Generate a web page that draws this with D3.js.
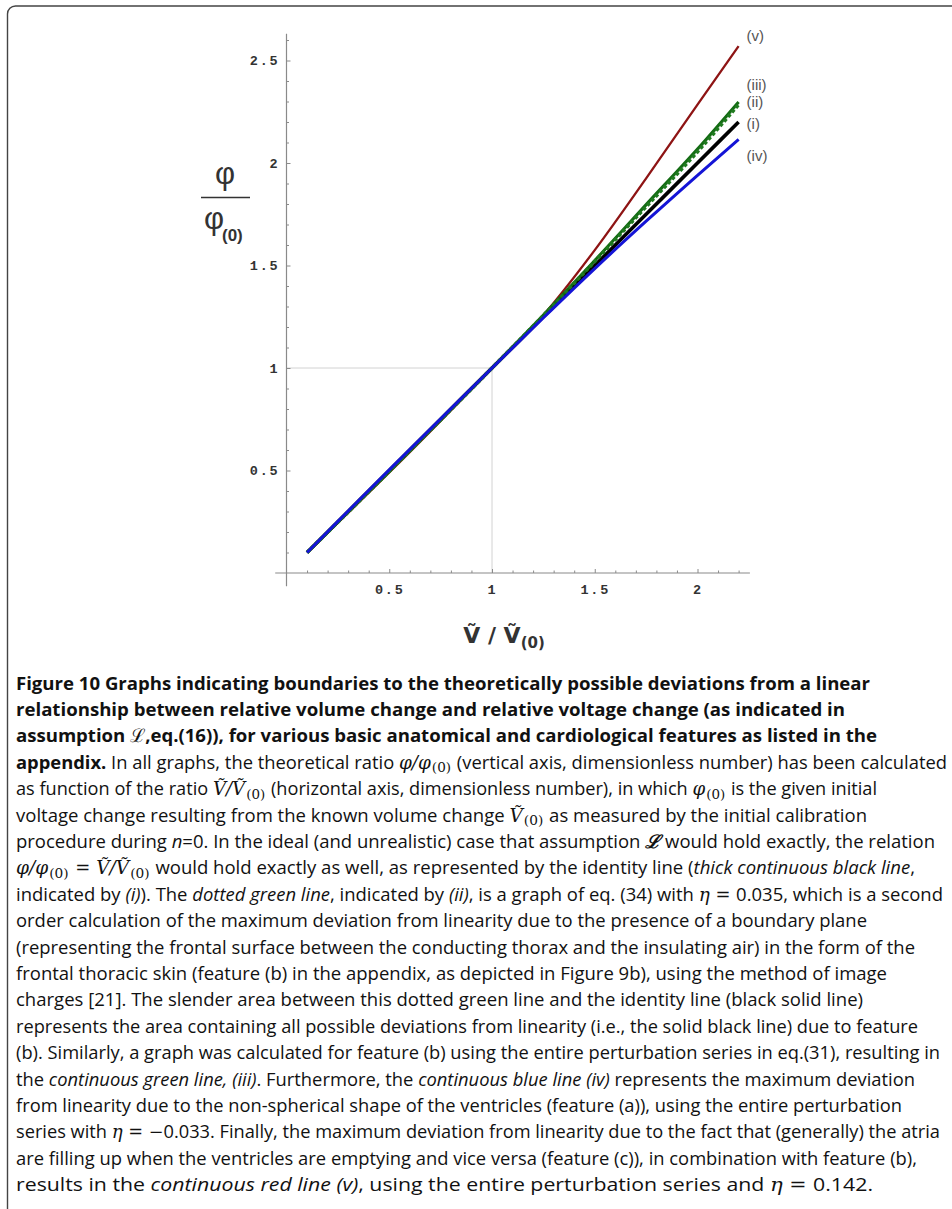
<!DOCTYPE html>
<html>
<head>
<meta charset="utf-8">
<script src="https://cdn.jsdelivr.net/npm/d3@7"></script>
<style>
  body { margin: 0; background: #fff; }
  svg { display: block; }
  text { white-space: pre; }
</style>
</head>
<body>
<svg id="fig" width="952" height="1209"></svg>
<script>
// values (phi/phi0 against V/V0)
const ratioV = [0.1, 0.25, 0.5, 0.75, 1, 1.25, 1.5, 1.75, 2, 2.2];
const identityLine = [0.1, 0.25, 0.5, 0.75, 1, 1.25, 1.5, 1.75, 2, 2.2];          // (i)
const dottedGreen = [0.1, 0.248, 0.496, 0.747, 1, 1.256, 1.52, 1.787, 2.055, 2.285]; // (ii)
const solidGreen = [0.1, 0.248, 0.496, 0.747, 1, 1.258, 1.524, 1.797, 2.068, 2.298]; // (iii)
const blueLine = [0.1, 0.252, 0.503, 0.752, 1, 1.245, 1.485, 1.716, 1.94, 2.115];    // (iv)
const redLine = [0.1, 0.245, 0.49, 0.742, 1, 1.258, 1.575, 1.925, 2.285, 2.57];      // (v)

const xTicks = [0.5, 1, 1.5, 2];
const yTicks = [0.5, 1, 1.5, 2, 2.5];
const curveNames = ['(i)', '(ii)', '(iii)', '(iv)', '(v)'];

const svg = d3.select('#fig');

// frame (open to the right and bottom)
svg.append('path')
  .attr('d', 'M7.5,1209V14A8,8 0 0 1 15.5,6H952')
  .attr('fill', 'none')
  .attr('stroke', '#444')
  .attr('stroke-width', 1.4);

const x = d3.scaleLinear().domain([0, 2]).range([286.5, 697.5]);
const y = d3.scaleLinear().domain([0, 2.5]).range([573, 60.5]);

// reference lines to the point (1,1)
svg.append('line')
  .attr('x1', x(0)).attr('x2', x(1)).attr('y1', y(1)).attr('y2', y(1))
  .attr('stroke', '#d2d2d2').attr('stroke-width', 1);
svg.append('line')
  .attr('x1', x(1)).attr('x2', x(1)).attr('y1', y(0)).attr('y2', y(1))
  .attr('stroke', '#d2d2d2').attr('stroke-width', 1);

// axes

const axisColor = '#8a8a8a';
const minorX = d3.range(1, 23).map(i => i / 10).filter(v => !xTicks.some(t => Math.abs(t - v) < 1e-9));
const minorY = d3.range(1, 27).map(i => i / 10).filter(v => !yTicks.some(t => Math.abs(t - v) < 1e-9));

svg.append('line')
  .attr('x1', x(-0.055)).attr('x2', x(2.255)).attr('y1', y(0)).attr('y2', y(0))
  .attr('stroke', axisColor).attr('stroke-width', 1.2);
svg.append('line')
  .attr('x1', x(0)).attr('x2', x(0)).attr('y1', y(-0.065)).attr('y2', y(2.63))
  .attr('stroke', axisColor).attr('stroke-width', 1.2);

function styleAxis(g) {
  g.select('.domain').remove();
  g.selectAll('.tick line').attr('stroke', axisColor).attr('stroke-width', 1);
  g.selectAll('.tick text')
    .attr('fill', '#333')
    .attr('font-family', '"Liberation Mono", "DejaVu Sans Mono", monospace')
    .attr('font-weight', 'bold')
    .attr('font-size', 13.5)
    .attr('letter-spacing', 1.8);
}

svg.append('g')
  .attr('transform', `translate(0,${y(0)})`)
  .call(d3.axisBottom(x).tickValues(minorX).tickSize(-2.5).tickFormat(''))
  .call(styleAxis);
svg.append('g')
  .attr('transform', `translate(0,${y(0)})`)
  .call(d3.axisBottom(x).tickValues(xTicks).tickSize(-4).tickPadding(11).tickFormat(d3.format('')))
  .call(styleAxis);
svg.append('g')
  .attr('transform', `translate(${x(0)},0)`)
  .call(d3.axisLeft(y).tickValues(minorY).tickSize(-2.5).tickFormat(''))
  .call(styleAxis);
svg.append('g')
  .attr('transform', `translate(${x(0)},0)`)
  .call(d3.axisLeft(y).tickValues(yTicks).tickSize(-4).tickPadding(7).tickFormat(d3.format('')))
  .call(styleAxis);

// curves

const line = d3.line()
  .x((d, i) => x(ratioV[i]))
  .y(d => y(d))
  .curve(d3.curveMonotoneX);

const curves = [
  { name: curveNames[0], values: identityLine, color: '#000', width: 3.6, dy: 1 },
  { name: curveNames[4], values: redLine, color: '#8e1414', width: 2.3, dy: -11 },
  { name: curveNames[2], values: solidGreen, color: '#136b13', width: 3, dy: -17 },
  { name: curveNames[1], values: dottedGreen, color: '#1f7a1f', width: 3.6, dy: -3, dash: '3.5,2.5' },
  { name: curveNames[3], values: blueLine, color: '#1414d6', width: 3, dy: 16 },
];

// pale core under the dotted curve gives the light gaps
svg.append('path')
  .attr('d', line(dottedGreen))
  .attr('fill', 'none')
  .attr('stroke', '#cfe3cf')
  .attr('stroke-width', 1.2);

curves.forEach(c => {
  svg.append('path')
    .attr('d', line(c.values))
    .attr('fill', 'none')
    .attr('stroke', c.color)
    .attr('stroke-width', c.width)
    .attr('stroke-dasharray', c.dash || null)
    .attr('stroke-linecap', 'butt');
});

curves.forEach(c => {
  const last = c.values[c.values.length - 1];
  svg.append('text')
    .attr('x', x(ratioV[ratioV.length - 1]) + 8)
    .attr('y', y(last) + c.dy)
    .attr('dominant-baseline', 'central')
    .attr('font-family', '"Liberation Sans", Arial, sans-serif')
    .attr('font-size', 15)
    .attr('fill', '#555')
    .text(c.name);
});

// axis titles

const yTitle = svg.append('g').attr('fill', '#333').attr('font-family', '"Liberation Sans", Arial, sans-serif');
yTitle.append('text').attr('x', 225).attr('y', 184).attr('text-anchor', 'middle').attr('font-size', 31).text('φ');
yTitle.append('line').attr('x1', 201).attr('x2', 250).attr('y1', 197.5).attr('y2', 197.5)
  .attr('stroke', '#333').attr('stroke-width', 1.6);
yTitle.append('text').attr('x', 214).attr('y', 229).attr('text-anchor', 'middle').attr('font-size', 31).text('φ');
yTitle.append('text').attr('x', 222).attr('y', 241).attr('font-size', 17).attr('font-weight', 'bold').text('(0)');

const xTitle = svg.append('text')
  .attr('x', 504).attr('y', 643)
  .attr('text-anchor', 'middle')
  .attr('fill', '#333')
  .attr('font-family', '"DejaVu Sans", sans-serif')
  .attr('font-weight', 'bold')
  .attr('font-size', 22);
xTitle.append('tspan').text('Ṽ / Ṽ');
xTitle.append('tspan').attr('font-size', 15).attr('dy', 5).text('(0)');

// caption

const sans = '"Open Sans", "Noto Sans", sans-serif';
const serif = '"DejaVu Serif", serif';

const caption = [
  [[['b', 'Figure 10 Graphs indicating boundaries to the theoretically possible deviations from a linear']], 870],
  [[['b', 'relationship between relative volume change and relative voltage change (as indicated in']], 845],
  [[['b', 'assumption '], ['L', 'ℒ'], ['b', ',eq.(16)), for various basic anatomical and cardiological features as listed in the']], 877],
  [[['b', 'appendix.'], ['n', ' In all graphs, the theoretical ratio '], ['m', 'φ/φ'], ['s', '(0)'], ['n', ' (vertical axis, dimensionless number) has been calculated']], 947],
  [[['n', 'as function of the ratio '], ['m', 'Ṽ/Ṽ'], ['s', '(0)'], ['n', ' (horizontal axis, dimensionless number), in which '], ['m', 'φ'], ['s', '(0)'], ['n', ' is the given initial']], 877],
  [[['n', 'voltage change resulting from the known volume change '], ['m', 'Ṽ'], ['s', '(0)'], ['n', ' as measured by the initial calibration']], 867],
  [[['n', 'procedure during '], ['i', 'n'], ['n', '=0. In the ideal (and unrealistic) case that assumption '], ['LB', 'ℒ'], ['n', ' would hold exactly, the relation']], 935],
  [[['m', 'φ/φ'], ['s', '(0)'], ['r', ' = '], ['m', 'Ṽ/Ṽ'], ['s', '(0)'], ['n', ' would hold exactly as well, as represented by the identity line ('], ['i', 'thick continuous black line'], ['n', ',']], 915],
  [[['n', 'indicated by '], ['i', '(i)'], ['n', '). The '], ['i', 'dotted green line'], ['n', ', indicated by '], ['i', '(ii)'], ['n', ', is a graph of eq. (34) with '], ['m', 'η'], ['r', ' = '], ['n', '0.035, which is a second']], 943],
  [[['n', 'order calculation of the maximum deviation from linearity due to the presence of a boundary plane']], 867],
  [[['n', '(representing the frontal surface between the conducting thorax and the insulating air) in the form of the']], 915],
  [[['n', 'frontal thoracic skin (feature (b) in the appendix, as depicted in Figure 9b), using the method of image']], 887],
  [[['n', 'charges [21]. The slender area between this dotted green line and the identity line (black solid line)']], 863],
  [[['n', 'represents the area containing all possible deviations from linearity (i.e., the solid black line) due to feature']], 918],
  [[['n', '(b). Similarly, a graph was calculated for feature (b) using the entire perturbation series in eq.(31), resulting in']], 940],
  [[['n', 'the '], ['i', 'continuous green line, (iii)'], ['n', '. Furthermore, the '], ['i', 'continuous blue line (iv)'], ['n', ' represents the maximum deviation']], 915],
  [[['n', 'from linearity due to the non-spherical shape of the ventricles (feature (a)), using the entire perturbation']], 902],
  [[['n', 'series with '], ['m', 'η'], ['r', ' = −'], ['n', '0.033. Finally, the maximum deviation from linearity due to the fact that (generally) the atria']], 940],
  [[['n', 'are filling up when the ventricles are emptying and vice versa (feature (c)), in combination with feature (b),']], 917],
  [[['n', 'results in the '], ['i', 'continuous red line (v)'], ['n', ', using the entire perturbation series and '], ['m', 'η'], ['r', ' = '], ['n', '0.142.']], 873],
];

const capLeft = 16;
const capTop = 689.5;
const capStep = 26.4;
const baseSize = 17;

const capTexts = caption.map(([segs, right], li) => {
  const t = svg.append('text')
    .attr('x', capLeft)
    .attr('y', capTop + li * capStep)
    .attr('fill', '#111')
    .attr('font-family', sans)
    .attr('font-size', baseSize);
  let shift = false;
  segs.forEach(([kind, str]) => {
    const ts = t.append('tspan').text(str);
    if (kind === 'b') ts.attr('font-weight', 'bold');
    if (kind === 'i') ts.attr('font-style', 'italic');
    if (kind === 'm') ts.attr('font-family', serif).attr('font-style', 'italic');
    if (kind === 'r') ts.attr('font-family', serif).attr('font-size', '0.97em');
    if (kind === 'L') ts.attr('font-family', serif);
    if (kind === 'LB') ts.attr('font-family', serif).attr('font-weight', 'bold').attr('font-style', 'italic');
    if (kind === 's') {
      ts.attr('font-family', serif).attr('font-size', '0.74em').attr('dy', '0.26em').attr('dx', 1);
      shift = true;
    } else if (shift) {
      ts.attr('dy', '-0.192em').attr('dx', 1);
      shift = false;
    }
  });
  return { t, target: right - capLeft, bold: segs.every(s => s[0] === 'b' || s[0] === 'L') };
});

// size the caption so its lines need little stretching to hit the measured ends
function fitSize(group) {
  const r = group.map(c => c.target / c.t.node().getComputedTextLength());
  return baseSize * d3.median(r);
}
const boldSize = fitSize(capTexts.filter(c => c.bold));
const plainSize = fitSize(capTexts.filter(c => !c.bold));
capTexts.forEach(c => {
  c.t.attr('font-size', c.bold ? boldSize : plainSize)
    .attr('textLength', c.target)
    .attr('lengthAdjust', 'spacingAndGlyphs');
});
</script>
</body>
</html>
